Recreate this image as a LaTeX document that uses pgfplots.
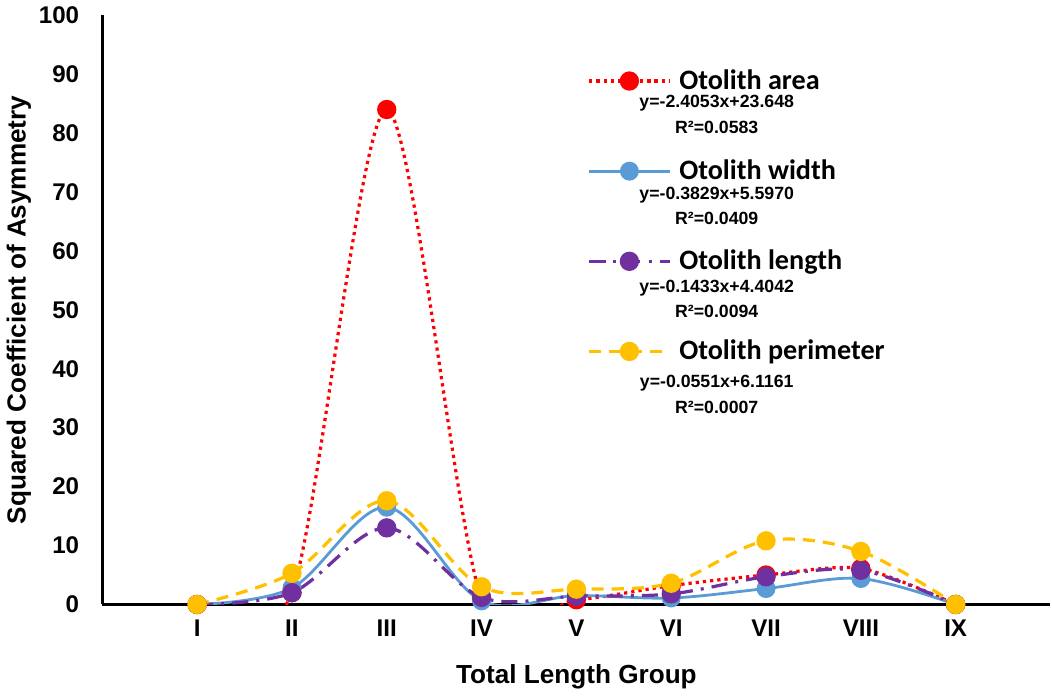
\documentclass[border=0pt]{standalone}
\usepackage{pgfplots}
\pgfplotsset{compat=1.18}
\usepackage{fontspec}
\setmainfont{Liberation Sans}
\newfontfamily\calib{Carlito}
\definecolor{cArea}{RGB}{255,0,0}
\definecolor{cWidth}{RGB}{91,155,213}
\definecolor{cLength}{RGB}{112,48,160}
\definecolor{cPerim}{RGB}{255,192,0}
\begin{document}
\begin{tikzpicture}
\begin{axis}[
    scale only axis,
    width=471.5pt,
    height=293pt,
    xmin=0, xmax=10,
    ymin=0, ymax=100,
    axis lines=left,
    axis line style={line width=1.5pt, -},
    xtick={1,...,9},
    xticklabels={I,II,III,IV,V,VI,VII,VIII,IX},
    ytick={0,10,...,100},
    major tick length=0pt,
    /pgf/number format/assume math mode=true,
    tick label style={font=\fontsize{12}{14}\selectfont\bfseries},
    xticklabel style={yshift=-4pt},
    yticklabel style={xshift=-8pt},
    xlabel={Total Length Group},
    ylabel={Squared Coefficient of Asymmetry},
    label style={font=\fontsize{13}{15}\selectfont\bfseries},
    xlabel style={yshift=-7pt},
    ylabel style={yshift=-3pt},
    clip=true,
    clip marker paths=false,
    legend style={at={(0.505,0.922)}, anchor=north west, draw=none, fill=none,
        font=\fontsize{14}{16}\selectfont\calib\bfseries,
        row sep=29.5pt, cells={anchor=west}},
    legend image code/.code={
        \draw[mark repeat=2,mark phase=2,#1] plot coordinates {(0pt,0pt) (20pt,0pt) (40pt,0pt)};},
]
\addplot[cArea, line width=1.6pt, dotted, smooth, tension=0.48,
    mark=*, mark size=4pt, mark options={solid, fill=cArea}] coordinates {
    (1,0) (2,2.0) (3,84) (4,1.0) (5,0.8) (6,3.2) (7,5.0) (8,6.1) (9,0)
};
\addlegendentry{\hspace{2pt}Otolith area}
\addplot[cWidth, line width=1.4pt, smooth, tension=0.55,
    mark=*, mark size=4pt, mark options={solid, fill=cWidth}] coordinates {
    (1,0) (2,2.8) (3,16.5) (4,0.6) (5,1.5) (6,1.1) (7,2.7) (8,4.4) (9,0)
};
\addlegendentry{\hspace{2pt}Otolith width}
\addplot[cLength, line width=1.6pt, dash pattern=on 8pt off 4pt on 1.5pt off 4pt, smooth, tension=0.55,
    mark=*, mark size=4pt, mark options={solid, fill=cLength}] coordinates {
    (1,0) (2,2.0) (3,13.0) (4,1.2) (5,1.4) (6,1.8) (7,4.7) (8,5.8) (9,0)
};
\addlegendentry{\hspace{2pt}Otolith length}
\addplot[cPerim, line width=1.6pt, dash pattern=on 6pt off 4pt, smooth, tension=0.55,
    mark=*, mark size=4pt, mark options={solid, fill=cPerim}] coordinates {
    (1,0) (2,5.3) (3,17.6) (4,3.0) (5,2.6) (6,3.6) (7,10.8) (8,9.0) (9,0)
};
\addlegendentry{\hspace{2pt}Otolith perimeter}
\begin{scope}[every node/.style={font=\fontsize{8.8}{10}\selectfont\bfseries, inner sep=0pt}]
\node at (rel axis cs:0.648,0.850) {y=-2.4053x+23.648};
\node at (rel axis cs:0.648,0.810) {R²=0.0583};
\node at (rel axis cs:0.648,0.694) {y=-0.3829x+5.5970};
\node at (rel axis cs:0.648,0.656) {R²=0.0409};
\node at (rel axis cs:0.648,0.536) {y=-0.1433x+4.4042};
\node at (rel axis cs:0.648,0.498) {R²=0.0094};
\node at (rel axis cs:0.648,0.375) {y=-0.0551x+6.1161};
\node at (rel axis cs:0.648,0.335) {R²=0.0007};
\end{scope}
\end{axis}
\end{tikzpicture}
\end{document}
